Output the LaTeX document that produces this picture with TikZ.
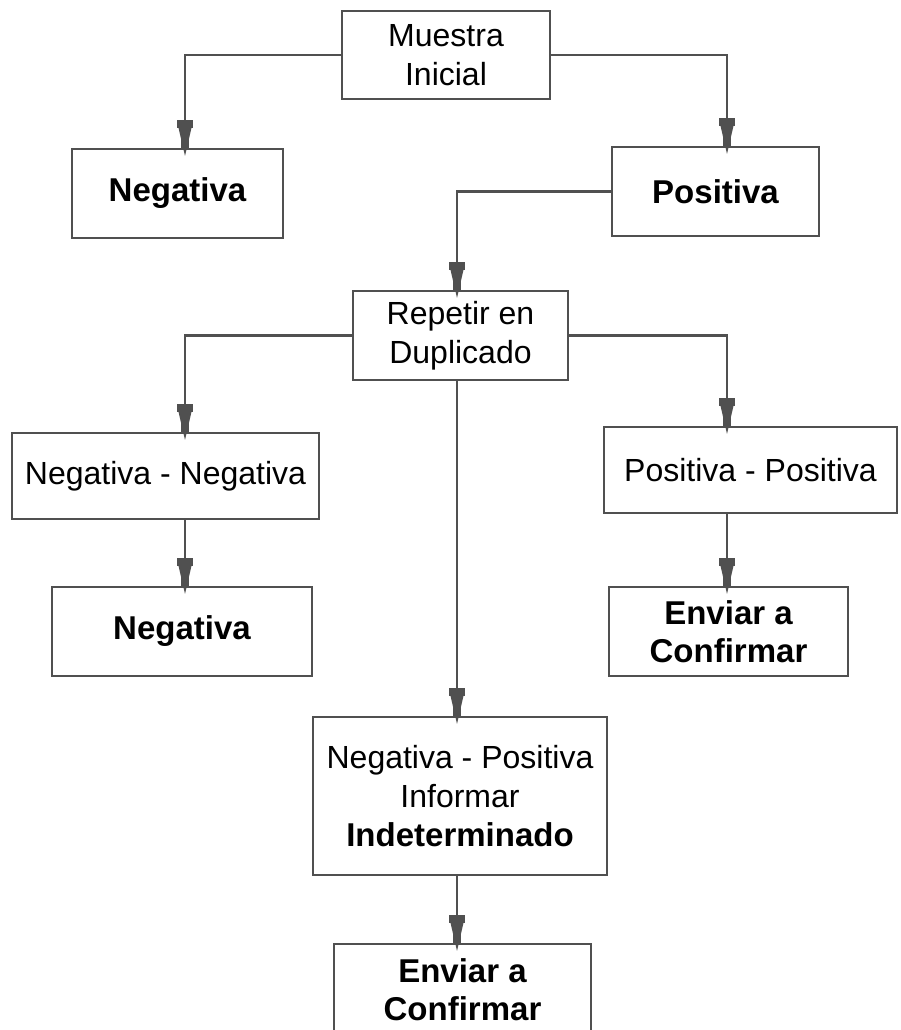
\documentclass[tikz,border=0pt]{standalone}
\usepackage{fontspec}
\setmainfont{Liberation Sans}
\usetikzlibrary{arrows.meta}
\definecolor{linegray}{HTML}{505050}
\tikzset{
  box/.style={draw=linegray, line width=2.2pt, rectangle, inner sep=0pt, align=center,
    font=\fontsize{32}{39}\selectfont},
  boldbox/.style={box, font=\fontsize{33}{38}\selectfont\bfseries},
  flow/.style={draw=linegray, line width=2.2pt,
    -{Rectangle[width=16pt,length=8pt,line width=0pt,sep=0pt]
      Triangle[width=13pt,length=28pt,line width=0pt,sep=-18pt]
      Rectangle[width=8pt,length=10pt,line width=0pt,sep=0pt]}}
}
\begin{document}
\begin{tikzpicture}[x=1pt,y=-1pt]
\useasboundingbox (0,0) rectangle (900,1030);
\clip (0,0) rectangle (900,1030);
\fill[white] (0,0) rectangle (900,1030);
% column coordinates for connectors
\coordinate (cL) at (185,0);
\coordinate (cC) at (457,0);
\coordinate (cR) at (727,0);
% nodes
\node[box, minimum width=208pt, minimum height=88pt] (M) at (446,55) {Muestra\\Inicial};
\node[boldbox, minimum width=211pt, minimum height=89pt] (N1) at (177.5,193.5) {Negativa};
\node[boldbox, minimum width=207pt, minimum height=89pt] (P1) at (715.5,191.5) {Positiva};
\node[box, minimum width=215pt, minimum height=89pt] (R) at (460.5,335.5) {Repetir en\\Duplicado};
\node[box, minimum width=307pt, minimum height=86pt] (NN) at (165.5,476) {Negativa - Negativa};
\node[box, minimum width=293pt, minimum height=86pt] (PP) at (750.5,470) {Positiva - Positiva};
\node[boldbox, minimum width=260pt, minimum height=89pt] (N2) at (182,631.5) {Negativa};
\node[boldbox, minimum width=239pt, minimum height=89pt] (E1) at (728.5,631.5) {Enviar a\\Confirmar};
\node[box, minimum width=294pt, minimum height=158pt] (NPI) at (460,796) {Negativa - Positiva\\Informar\\{\fontsize{33}{38}\selectfont\bfseries Indeterminado}};
\node[boldbox, minimum width=257pt, minimum height=92pt] (E2) at (462.5,990) {Enviar a\\Confirmar};
% connectors
\draw[flow] (M.west) -| (N1.north -| cL);
\draw[flow] (M.east) -| (P1.north -| cR);
\draw[flow] (P1.west) -| (R.north -| cC);
\draw[flow] (R.west) -| (NN.north -| cL);
\draw[flow] (R.east) -| (PP.north -| cR);
\draw[flow] (R.south -| cC) -- (NPI.north -| cC);
\draw[flow] (NN.south -| cL) -- (N2.north -| cL);
\draw[flow] (PP.south -| cR) -- (E1.north -| cR);
\draw[flow] (NPI.south -| cC) -- (E2.north -| cC);
\end{tikzpicture}
\end{document}
